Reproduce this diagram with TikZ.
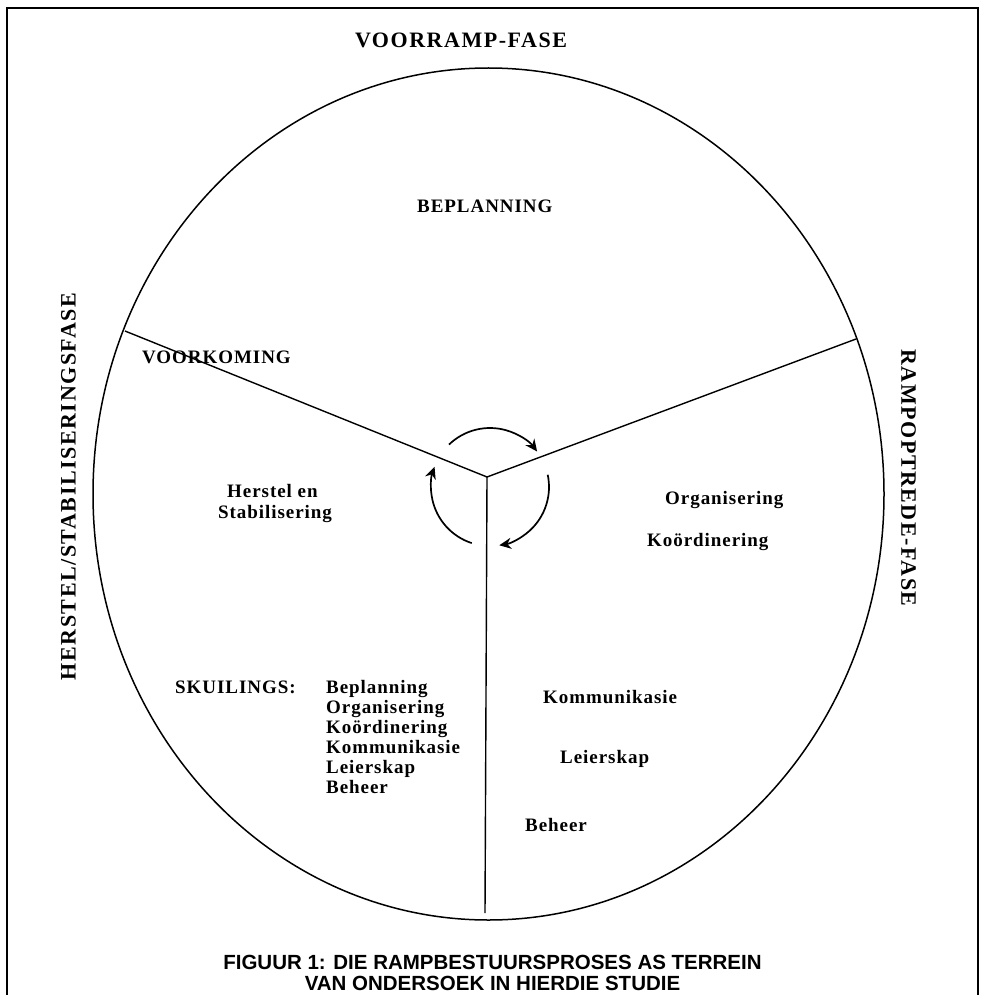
\documentclass[tikz,border=0pt]{standalone}
\usepackage{fontspec}
\setmainfont{Liberation Serif}
\setsansfont{Liberation Sans}
\newfontfamily\lsfont[LetterSpace=5]{Liberation Serif}
\newfontfamily\lsbig[LetterSpace=7]{Liberation Serif}
\usetikzlibrary{arrows.meta}
\begin{document}
\begin{tikzpicture}[x=1pt,y=-1pt,
  lbl/.style={inner sep=0pt, font=\lsfont\bfseries\fontsize{19}{20}\selectfont, anchor=base west},
  phase/.style={inner sep=0pt, font=\lsbig\bfseries\fontsize{22}{24}\selectfont},
  captxt/.style={inner sep=0pt, anchor=base, font=\sffamily\bfseries\fontsize{20.5}{22}\selectfont},
  spoke/.style={line width=1.4pt},
  cyc/.style={line width=1.7pt, -{Stealth[length=12pt,width=11pt]}}
]
\useasboundingbox (0,0) rectangle (984,995);
% frame
\draw[line width=1.1pt] (7,995) -- (7,8) -- (978,8) -- (978,995);
% ring
\draw[line width=1.5pt] (488.5,494) ellipse [x radius=395.5, y radius=426];
% spokes
\coordinate (J) at (487,477);
\coordinate (L) at (125,331);
\coordinate (R) at (856,339);
\coordinate (B) at (485,913);
\draw[spoke] (L) -- (J) -- (R);
\draw[spoke] (J) -- (B);
% cycle arrows
\coordinate (C) at (490,487);
\draw[cyc] (C) ++(-134:59) arc[start angle=-134, end angle=-37, radius=59];
\draw[cyc] (C) ++(-12:59) arc[start angle=-12, end angle=81, radius=59];
\draw[cyc] (C) ++(108:59) arc[start angle=108, end angle=200, radius=59];
% phase titles
\node[phase, anchor=base] (top) at (461,48) {VOORRAMP-FASE};
\node[phase, rotate=90] (left) at (68.5,486.5) {HERSTEL/STABILISERINGSFASE};
\node[phase, rotate=-90] (right) at (908.5,478) {RAMPOPTREDE-FASE};
% sector texts
\node[lbl] (bepl) at (417,212) {BEPLANNING};
\node[lbl] (voork) at (142,363) {VOORKOMING};
\node[lbl] (herst) at (227,497) {Herstel en};
\node[lbl] (stab) at (218,518) {Stabilisering};
\node[lbl] (org) at (665,504) {Organisering};
\node[lbl] (koord) at (647,546) {Koördinering};
\node[lbl] (komm) at (543,703) {Kommunikasie};
\node[lbl] (leier) at (560,763) {Leierskap};
\node[lbl] (beh) at (525,831) {Beheer};
\node[lbl] (skui) at (175,693) {SKUILINGS:};
\foreach \t [count=\i] in {Beplanning,Organisering,Koördinering,Kommunikasie,Leierskap,Beheer}
  \node[lbl] (sk\i) at (326,{673+20*\i}) {\t};
% caption
\node[captxt] (cap1) at (492.5,969) {FIGUUR 1: DIE RAMPBESTUURSPROSES AS TERREIN};
\node[captxt] (cap2) at (492.5,990) {VAN ONDERSOEK IN HIERDIE STUDIE};
\end{tikzpicture}
\end{document}
